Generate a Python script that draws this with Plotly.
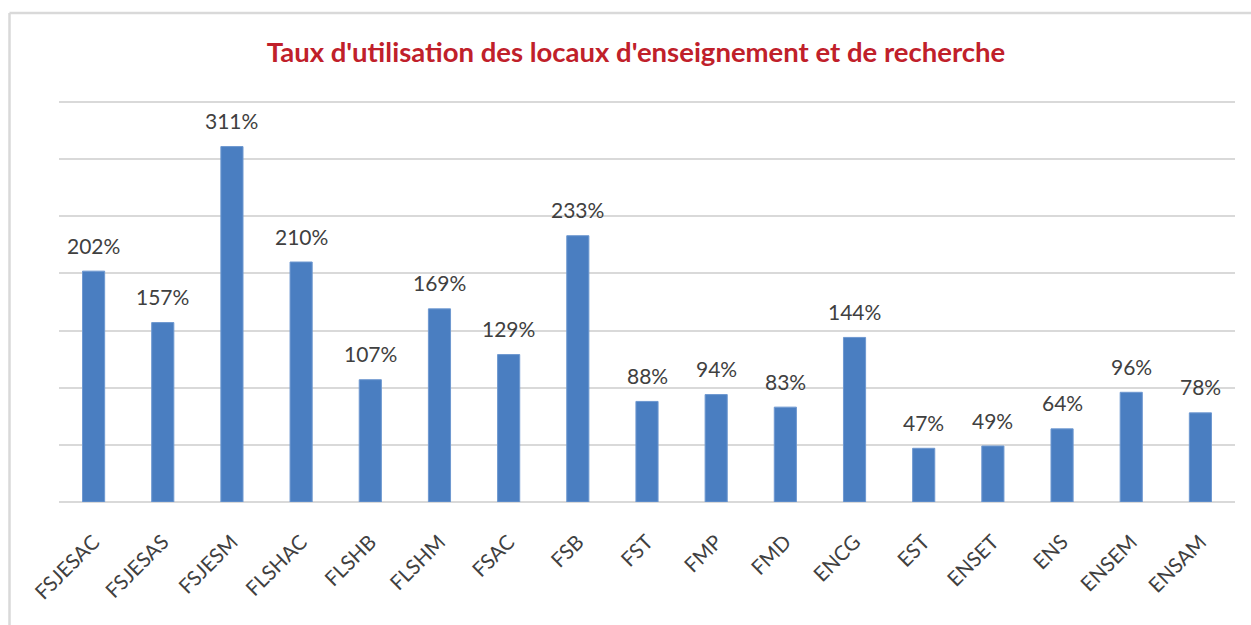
import plotly.graph_objects as go

categories = ["FSJESAC", "FSJESAS", "FSJESM", "FLSHAC", "FLSHB", "FLSHM", "FSAC", "FSB",
              "FST", "FMP", "FMD", "ENCG", "EST", "ENSET", "ENS", "ENSEM", "ENSAM"]
values = [202, 157, 311, 210, 107, 169, 129, 233, 88, 94, 83, 144, 47, 49, 64, 96, 78]
title_text = "Taux d'utilisation des locaux d'enseignement et de recherche"

W, H = 1251, 625
ml, mr, mt, mb = 59, 16, 98, 123
pw, ph = W - ml - mr, H - mt - mb
FONT = "Lato, Open Sans, sans-serif"
y_top = 350 * ph / 400.0

fig = go.Figure()
fig.add_trace(go.Bar(
    x=categories, y=values,
    marker=dict(color="#4A7EC1", line=dict(color="#6E98D0", width=1)),
    width=0.32,
    hoverinfo="x+y",
))

annotations = []
for c, v in zip(categories, values):
    annotations.append(dict(
        x=c, y=v, xref="x", yref="y", text=f"{v}%", showarrow=False,
        yanchor="middle", yshift=26,
        font=dict(family=FONT, size=21, color="#404040"),
    ))

bx0 = (9.5 - ml) / pw
by1 = 1 + (mt - 13) / ph
fig.update_layout(
    width=W, height=H,
    margin=dict(l=ml, r=mr, t=mt, b=mb),
    paper_bgcolor="white", plot_bgcolor="white",
    showlegend=False,
    title=dict(text=f"<b>{title_text}</b>", x=(636 - ml) / pw, xref="paper", xanchor="center",
               y=1 - 52 / H, yref="container", yanchor="middle",
               font=dict(family=FONT, size=27.5, color="#C0202A")),
    annotations=annotations,
    shapes=[
        dict(type="line", xref="paper", yref="paper", x0=bx0, x1=bx0, y0=-0.4, y1=by1,
             line=dict(color="#D9D9D9", width=2.5)),
        dict(type="line", xref="paper", yref="paper", x0=bx0, x1=1.1, y0=by1, y1=by1,
             line=dict(color="#D9D9D9", width=2.5)),
    ],
    xaxis=dict(
        tickangle=-45, ticklabelstandoff=23,
        tickfont=dict(family=FONT, size=20.5, color="#404040"),
        showline=False, showgrid=False, ticks="",
    ),
    yaxis=dict(
        range=[0, y_top], dtick=50, showticklabels=False, showgrid=True,
        gridcolor="#D9D9D9", gridwidth=1.5, zeroline=True, zerolinecolor="#D9D9D9",
        zerolinewidth=1.5, showline=False, ticks="",
    ),
    bargap=0.68,
)

fig.write_html("out.html", config={"displayModeBar": False},
               post_script="document.body.style.margin='0';document.body.style.overflow='hidden';")
